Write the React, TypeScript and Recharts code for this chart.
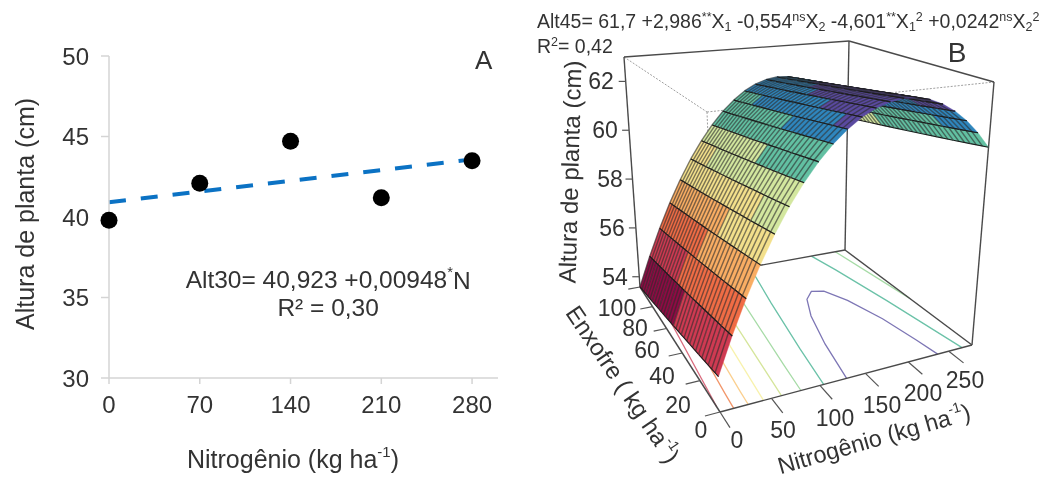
import { ComposedChart, Line, Scatter, XAxis, YAxis } from 'recharts'

const FONT = '"Liberation Sans", Arial, sans-serif'
const INK = '#333333'

// Panel A
const nitrogenDoses = [0, 70, 140, 210, 280]
const heights30 = [39.8, 42.1, 44.7, 41.2, 43.5]
const trendDoses = [0, 280]
const trendHeights = [40.92, 43.58]
const heightTicks = [30, 35, 40, 45, 50]

// Panel B: ridge heights along S = 0, one per grid row of N, and the drop towards S = 100
const gridNitrogen = [0, 14, 28, 42, 56, 70, 84, 98, 112, 126, 140, 154, 168, 182, 196, 210, 224, 238, 252, 266, 280]
const ridgeHeights = [54.69, 55.86, 56.94, 57.93, 58.83, 59.64, 60.35, 60.97, 61.5, 61.93, 62.28, 62.53, 62.69, 62.76, 62.74, 62.62, 62.41, 62.11, 61.72, 61.24, 60.66]
const gridSulfur = [0, 10, 20, 30, 40, 50, 60, 70, 80, 90, 100]
const sulfurDrops = [0, 0.119, 0.237, 0.352, 0.466, 0.578, 0.688, 0.796, 0.901, 1.006, 1.108]

const bandLimits = [54.65, 55.75, 56.85, 57.95, 59.05, 60.15, 61.2, 62, 99]
const bandColors = ['#8f0b44', '#cf3a52', '#f06c45', '#f9ad63', '#f3e08c', '#d3e79f', '#62c0a2', '#2f86bd', '#5a4aa0']

const contourLines = [
  { color: '#d9697c', points: [[0, 3], [13, 100]] },
  { color: '#f2966a', points: [[13, 0], [14, 9], [27, 100]] },
  { color: '#fbcf8e', points: [[27, 0], [28, 8], [42, 97], [42.5, 100]] },
  { color: '#f8f2ac', points: [[42, 0], [56, 78], [60, 100]] },
  { color: '#d5e59b', points: [[60, 0], [70, 51], [80, 100]] },
  { color: '#a6dba6', points: [[80, 0], [84, 17], [98, 72], [106, 100]] },
  { color: '#a6dba6', points: [[265, 100], [280, 43]] },
  { color: '#6bc2a8', points: [[104, 0], [112, 25], [126, 63], [140, 97], [141, 100]] },
  { color: '#6bc2a8', points: [[229, 100], [238, 81], [252, 45], [266, 3], [267, 0]] },
  { color: '#7d76b5', points: [[129, 0], [140, 24], [154, 46], [168, 60], [182, 66], [196, 64], [210, 52], [224, 32], [232, 12], [236, 0]] },
]

const zTicks = [54, 56, 58, 60, 62]
const zTickLabelX = [615, 612, 610, 605, 601]
const sTicks = [0, 20, 40, 60, 80, 100]
const nTicks = [0, 50, 100, 150, 200, 250]

// box corners on the page: [N=0 S=0], [N=280 S=0], [N=280 S=100], [N=0 S=100]
const FLOOR = [[720, 412], [972, 345], [845, 250], [640, 287]]
const ROOF = [[707, 112], [994, 82], [849, 41], [624, 57]]
const Z_MIN = 53.58
const Z_MAX = 63.0

function homography(q: number[][]) {
  const [[x0, y0], [x1, y1], [x2, y2], [x3, y3]] = q
  const dx1 = x1 - x2, dx2 = x3 - x2, sx = x0 - x1 + x2 - x3
  const dy1 = y1 - y2, dy2 = y3 - y2, sy = y0 - y1 + y2 - y3
  const den = dx1 * dy2 - dx2 * dy1
  const g = (sx * dy2 - dx2 * sy) / den
  const h = (dx1 * sy - sx * dy1) / den
  const a = x1 - x0 + g * x1, b = x3 - x0 + h * x3
  const d = y1 - y0 + g * y1, e = y3 - y0 + h * y3
  return (u: number, v: number) => {
    const w = g * u + h * v + 1
    return [(a * u + b * v + x0) / w, (d * u + e * v + y0) / w]
  }
}

const floorAt = homography(FLOOR)
const roofAt = homography(ROOF)

function project(n: number, s: number, z: number) {
  const [fx, fy] = floorAt(n / 280, s / 100)
  const [rx, ry] = roofAt(n / 280, s / 100)
  const t = (z - Z_MIN) / (Z_MAX - Z_MIN)
  return { px: fx + (rx - fx) * t, py: fy + (ry - fy) * t }
}

const bandColor = (z: number) => bandColors[bandLimits.findIndex(l => z < l)]

// far cells first so the nearer ones paint over them
const surfaceCells: any[] = []
for (let i = gridNitrogen.length - 2; i >= 0; i--) {
  for (let j = gridSulfur.length - 2; j >= 0; j--) {
    const z = (a: number, b: number) => ridgeHeights[a] - sulfurDrops[b]
    const corners = [
      project(gridNitrogen[i], gridSulfur[j], z(i, j)),
      project(gridNitrogen[i + 1], gridSulfur[j], z(i + 1, j)),
      project(gridNitrogen[i + 1], gridSulfur[j + 1], z(i + 1, j + 1)),
      project(gridNitrogen[i], gridSulfur[j + 1], z(i, j + 1)),
    ]
    const mean = (z(i, j) + z(i + 1, j) + z(i + 1, j + 1) + z(i, j + 1)) / 4
    surfaceCells.push({ px: corners[0].px, py: corners[0].py, corners, fill: bandColor(mean) })
  }
}

const lerp = (a: any, b: any, t: number) => [a.x + (b.x - a.x) * t, a.y + (b.y - a.y) * t]

function SurfaceCell({ cx, cy, payload }: any) {
  const pts = payload.corners.map((c: any) => ({ x: cx + c.px - payload.px, y: cy + c.py - payload.py }))
  const stripes = [1 / 3, 2 / 3, 1].map(t => {
    const [x1, y1] = lerp(pts[0], pts[3], t)
    const [x2, y2] = lerp(pts[1], pts[2], t)
    return <line key={t} x1={x1} y1={y1} x2={x2} y2={y2} stroke="#2b2b2b" strokeOpacity={0.6} strokeWidth={1.4} />
  })
  return (
    <g>
      <polygon points={pts.map((p: any) => `${p.x},${p.y}`).join(' ')} fill={payload.fill} stroke={payload.fill} strokeWidth={0.4} />
      {stripes}
      <line x1={pts[0].x} y1={pts[0].y} x2={pts[3].x} y2={pts[3].y} stroke="#1c1c1c" strokeWidth={1.1} />
      <line x1={pts[1].x} y1={pts[1].y} x2={pts[2].x} y2={pts[2].y} stroke="#1c1c1c" strokeWidth={1.1} />
    </g>
  )
}

function TextMark({ cx, cy, payload }: any) {
  const { label, sup, tail, angle = 0, size = 23, anchor = 'middle' } = payload
  return (
    <text
      x={cx}
      y={cy}
      fontFamily={FONT}
      fontSize={size}
      fill={INK}
      textAnchor={anchor}
      dominantBaseline="central"
      transform={angle ? `rotate(${angle} ${cx} ${cy})` : undefined}
    >
      {label}
      {sup && <tspan dy={-size * 0.33} fontSize={size * 0.6}>{sup}</tspan>}
      {tail && <tspan dy={size * 0.33}>{tail}</tspan>}
    </text>
  )
}

const seg = (a: number[], b: number[]) => [{ px: a[0], py: a[1] }, { px: b[0], py: b[1] }]

const boxLines = [
  seg(ROOF[3], ROOF[2]), seg(ROOF[2], ROOF[1]),
  seg(ROOF[3], FLOOR[3]), seg(ROOF[2], FLOOR[2]), seg(ROOF[1], FLOOR[1]),
  seg(FLOOR[3], FLOOR[2]), seg(FLOOR[2], FLOOR[1]), seg(FLOOR[1], FLOOR[0]), seg(FLOOR[0], FLOOR[3]),
]
const hiddenLines = [seg(ROOF[3], ROOF[0]), seg(ROOF[0], ROOF[1]), seg(ROOF[0], [709, 160])]

const tickLines = [
  ...zTicks.map(z => {
    const p = project(0, 100, z)
    return [{ px: p.px - 7, py: p.py }, p]
  }),
  ...sTicks.map(s => [project(0, s, Z_MIN), project(-14, s, Z_MIN)]),
  ...nTicks.map(n => [project(n, 0, Z_MIN), project(n, -9, Z_MIN)]),
]

const zLabels = zTicks.map((z, i) => ({ ...project(0, 100, z), px: zTickLabelX[i], label: String(z) }))
const sLabels = [[701, 430], [678, 405], [662, 376], [647, 350], [635, 328], [617, 308]].map((p, i) => ({ px: p[0], py: p[1], label: String(sTicks[i]) }))
const nLabels = [[737, 440], [783, 430], [835, 418], [882, 405], [923, 393], [965, 380]].map((p, i) => ({ px: p[0], py: p[1], label: String(nTicks[i]) }))
const titlesB = [
  { px: 570, py: 172, label: 'Altura de planta (cm)', angle: -88.5, size: 24 },
  { px: 623, py: 384, label: 'Enxofre ( kg ha', sup: '-1', tail: ')', angle: 56, size: 24 },
  { px: 874, py: 439, label: 'Nitrogênio (kg ha', sup: '-1', tail: ')', angle: -16, size: 23.5 },
  { px: 957, py: 52, label: 'B', size: 28 },
]

const scatterData = nitrogenDoses.map((n, i) => ({ n, h: heights30[i] }))
const trendData = trendDoses.map((n, i) => ({ n, h: trendHeights[i] }))
const notesA = [
  { n: 289, h: 49.75, label: 'A', size: 26 },
  { n: 169, h: 36.1, label: 'Alt30= 40,923 +0,00948', sup: '*', tail: 'N', size: 24.5 },
  { n: 169, h: 34.35, label: 'R² = 0,30', size: 24.5 },
]

const tickStyle = { fontFamily: FONT, fontSize: 24, fill: INK }
const eqStyle: any = { position: 'absolute', fontFamily: FONT, fontSize: 19.5, color: INK, whiteSpace: 'nowrap', lineHeight: 1 }
const subStyle: any = { fontSize: 12.5, verticalAlign: 'baseline', position: 'relative', top: 3 }
const supStyle: any = { fontSize: 12.5, verticalAlign: 'baseline', position: 'relative', top: -7 }

export default function App() {
  return (
    <div style={{ position: 'absolute', left: 0, top: 0, width: 1049, height: 477, background: '#fff', overflow: 'hidden', filter: 'blur(0.45px)' }}>
      <div style={{ position: 'absolute', left: 0, top: 0 }}>
        <ComposedChart width={525} height={477} margin={{ top: 56, right: 27, bottom: 0, left: 50 }}>
          <XAxis
            dataKey="n"
            type="number"
            domain={[0, 300]}
            ticks={nitrogenDoses}
            height={99}
            tick={tickStyle}
            tickSize={6}
            tickMargin={12}
            stroke="#d4d4d4"
            strokeWidth={1.5}
            label={{
              position: 'bottom',
              content: () => (
                <text x={293} y={459} fontFamily={FONT} fontSize={25} fill={INK} textAnchor="middle" dominantBaseline="central">
                  Nitrogênio (kg ha<tspan dy={-8} fontSize={15}>-1</tspan><tspan dy={8}>)</tspan>
                </text>
              ),
            }}
          />
          <YAxis
            dataKey="h"
            type="number"
            domain={[30, 50]}
            ticks={heightTicks}
            width={59}
            tick={tickStyle}
            tickSize={8}
            tickMargin={12}
            stroke="#d4d4d4"
            strokeWidth={1.5}
            label={{
              position: 'left',
              content: () => (
                <text x={25} y={214} fontFamily={FONT} fontSize={25} fill={INK} textAnchor="middle" dominantBaseline="central" transform="rotate(-90 25 214)">
                  Altura de planta (cm)
                </text>
              ),
            }}
          />
          <Line data={trendData} dataKey="h" stroke="#0b72c4" strokeWidth={4} strokeDasharray="17 15" dot={false} legendType="none" isAnimationActive={false} />
          <Scatter data={scatterData} dataKey="h" fill="#000" shape={(p: any) => <circle cx={p.cx} cy={p.cy} r={8.5} fill="#000" />} isAnimationActive={false} />
          <Scatter data={notesA} dataKey="h" shape={TextMark} isAnimationActive={false} />
        </ComposedChart>
      </div>

      <div style={{ position: 'absolute', left: 525, top: 0 }}>
        <ComposedChart width={524} height={477} margin={{ top: 0, right: 0, bottom: 0, left: 0 }}>
          <XAxis dataKey="px" type="number" domain={[525, 1049]} hide />
          <YAxis dataKey="py" type="number" domain={[0, 477]} reversed hide />
          {hiddenLines.map((d, i) => (
            <Line key={`h${i}`} data={d} dataKey="py" stroke="#a0a0a0" strokeWidth={1} strokeDasharray="2 1.5" dot={false} isAnimationActive={false} />
          ))}
          {contourLines.map((c, i) => (
            <Line
              key={`c${i}`}
              data={c.points.map(p => project(p[0], p[1], Z_MIN))}
              dataKey="py"
              stroke={c.color}
              strokeWidth={1.3}
              dot={false}
              isAnimationActive={false}
            />
          ))}
          {boxLines.map((d, i) => (
            <Line key={`b${i}`} data={d} dataKey="py" stroke="#4a4a4a" strokeWidth={1.4} dot={false} isAnimationActive={false} />
          ))}
          {tickLines.map((d, i) => (
            <Line key={`t${i}`} data={d} dataKey="py" stroke="#555" strokeWidth={1.2} dot={false} isAnimationActive={false} />
          ))}
          <Scatter data={surfaceCells} dataKey="py" shape={SurfaceCell} isAnimationActive={false} />
          <Scatter data={[...zLabels, ...sLabels, ...nLabels, ...titlesB]} dataKey="py" shape={TextMark} isAnimationActive={false} />
        </ComposedChart>
      </div>

      <div style={{ ...eqStyle, left: 537, top: 12 }}>
        Alt45= 61,7 +2,986<span style={supStyle}>**</span>X<span style={subStyle}>1</span> -0,554<span style={supStyle}>ns</span>X<span style={subStyle}>2</span> -4,601<span style={supStyle}>**</span>X<span style={subStyle}>1</span><span style={supStyle}>2</span> +0,0242<span style={supStyle}>ns</span>X<span style={subStyle}>2</span><span style={supStyle}>2</span>
      </div>
      <div style={{ ...eqStyle, left: 537, top: 37 }}>
        R<span style={supStyle}>2</span>= 0,42
      </div>
    </div>
  )
}
